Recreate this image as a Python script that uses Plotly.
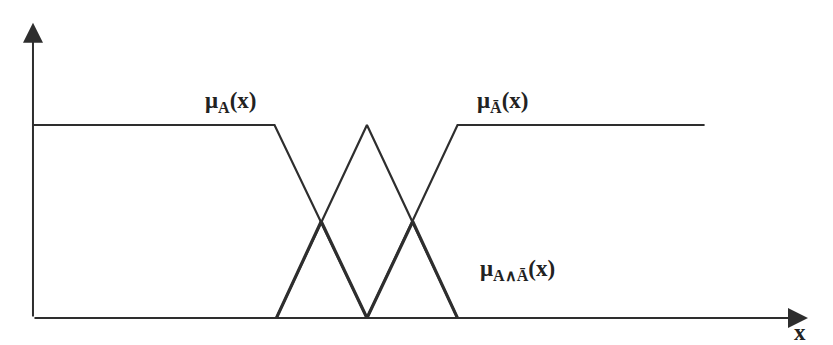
import plotly.graph_objects as go

# Membership functions (x in arbitrary units, membership 0..1)
muA_x = [0.0, 2.64, 3.65]
muA_y = [1.0, 1.0, 0.0]
muNotA_x = [3.65, 4.64, 7.34]
muNotA_y = [0.0, 1.0, 1.0]
tri_x = [2.66, 3.65, 4.64]
tri_y = [0.0, 1.0, 0.0]
meet_x = [2.66, 3.15, 3.65, 4.15, 4.64]
meet_y = [0.0, 0.5, 0.0, 0.5, 0.0]
axis_x_end = 8.47
axis_y_end = 1.53
labels = ["μ<sub>A</sub>(x)", "μ<sub>Ā</sub>(x)", "μ<sub>A∧Ā</sub>(x)", "x"]
label_x = [2.16, 5.14, 5.29, 8.38]
label_y = [1.12, 1.12, 0.25, -0.075]

col = "#2e2e2e"
fig = go.Figure()
fig.add_trace(go.Scatter(x=muA_x, y=muA_y, mode="lines", line=dict(color=col, width=2.2)))
fig.add_trace(go.Scatter(x=muNotA_x, y=muNotA_y, mode="lines", line=dict(color=col, width=2.2)))
fig.add_trace(go.Scatter(x=tri_x, y=tri_y, mode="lines", line=dict(color=col, width=2.2)))
fig.add_trace(go.Scatter(x=meet_x, y=meet_y, mode="lines", line=dict(color=col, width=3.2)))

# axes arrows
fig.add_annotation(x=axis_x_end, y=0, ax=0, ay=0, xref="x", yref="y", axref="x", ayref="y",
                   showarrow=True, arrowhead=2, arrowsize=2, arrowwidth=2, arrowcolor=col, text="")
fig.add_annotation(x=0, y=axis_y_end, ax=0, ay=0, xref="x", yref="y", axref="x", ayref="y",
                   showarrow=True, arrowhead=2, arrowsize=2, arrowwidth=2, arrowcolor=col, text="")

for t, lx, ly in zip(labels, label_x, label_y):
    fig.add_annotation(x=lx, y=ly, xref="x", yref="y", text="<b>" + t + "</b>", showarrow=False,
                       font=dict(family="Liberation Serif", size=23, color="#222"))

fig.update_xaxes(range=[-0.273, 8.831], visible=False, fixedrange=True)
fig.update_yaxes(range=[-0.181, 1.606], visible=False, fixedrange=True)
fig.update_layout(width=833, height=345, margin=dict(l=0, r=0, t=0, b=0),
                  plot_bgcolor="white", paper_bgcolor="white", showlegend=False)
fig.write_html("out.html")
